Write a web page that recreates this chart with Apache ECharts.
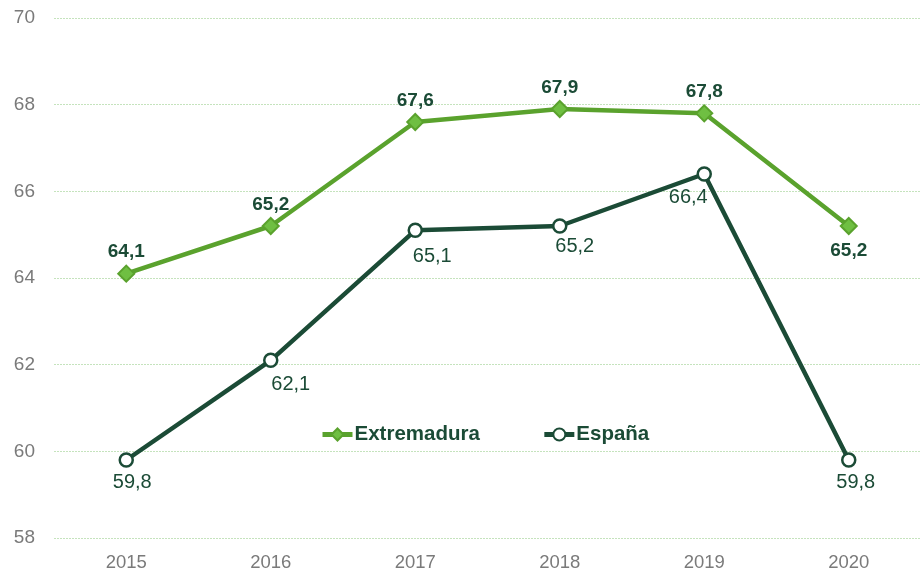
<!DOCTYPE html>
<html>
<head>
<meta charset="utf-8">
<script src="https://cdn.jsdelivr.net/npm/echarts@6/dist/echarts.min.js"></script>
<style>
  html, body { margin: 0; padding: 0; background: #fff; }
  #chart { width: 921px; height: 575px; }
</style>
</head>
<body>
<div id="chart"></div>
<script>
// Years shown on the category axis
const years = ['2015', '2016', '2017', '2018', '2019', '2020'];
// Series values
const extremadura = [64.1, 65.2, 67.6, 67.9, 67.8, 65.2];
const espana = [59.8, 62.1, 65.1, 65.2, 66.4, 59.8];
// Value axis range
const yMin = 58, yMax = 70, yStep = 2;

const lightGreen = '#5aa22d';
const markerGreen = '#6fbf42';
const darkGreen = '#1b4b36';
const comma = v => String(v.toFixed(1)).replace('.', ',');

const chart = echarts.init(document.getElementById('chart'), null, { renderer: 'canvas' });

// Per-point label placement for the España line
const espanaLabelPos = [
  { position: 'bottom', offset: [6, -3] },
  { position: 'bottom', offset: [20, -2] },
  { position: 'bottom', offset: [17, 0] },
  { position: 'bottom', offset: [15, -5] },
  { position: 'bottom', offset: [-16, -2] },
  { position: 'bottom', offset: [7, -3] }
];

chart.setOption({
  animation: false,
  textStyle: { fontFamily: 'Liberation Sans, Arial, sans-serif' },
  grid: { left: 54, right: 0, top: 18, bottom: 37, containLabel: false },
  legend: {
    data: ['Extremadura', 'España'],
    left: 315,
    top: 419,
    itemGap: 62,
    itemWidth: 30,
    itemHeight: 15,
    lineStyle: { width: 5 },
    textStyle: { color: darkGreen, fontWeight: 'bold', fontSize: 20.5, padding: [0, 0, 0, -3] }
  },
  xAxis: {
    type: 'category',
    data: years,
    boundaryGap: true,
    axisLine: { show: false },
    axisTick: { show: false },
    axisLabel: { color: '#7a7a7a', fontSize: 18.5, margin: 15 }
  },
  yAxis: {
    type: 'value',
    min: yMin,
    max: yMax,
    interval: yStep,
    axisLine: { show: false },
    axisTick: { show: false },
    axisLabel: { color: '#7a7a7a', fontSize: 19, margin: 19 },
    splitLine: { lineStyle: { color: '#c5e3bd', type: [2, 1], width: 1 } }
  },
  series: [
    {
      name: 'Extremadura',
      type: 'line',
      data: extremadura.map((v, i) => ({
        value: v,
        label: i === 5 ? { position: 'bottom', distance: 6 } : { position: 'top', distance: 3 }
      })),
      lineStyle: { color: lightGreen, width: 4.5 },
      itemStyle: { color: markerGreen, borderColor: lightGreen, borderWidth: 2 },
      symbol: 'diamond',
      symbolSize: 16,
      label: {
        show: true,
        color: darkGreen,
        fontWeight: 'bold',
        fontSize: 19,
        formatter: p => comma(p.value)
      },
      z: 3
    },
    {
      name: 'España',
      type: 'line',
      data: espana.map((v, i) => ({ value: v, label: espanaLabelPos[i] })),
      lineStyle: { color: darkGreen, width: 4.5 },
      itemStyle: { color: '#ffffff', borderColor: darkGreen, borderWidth: 2.5 },
      symbol: 'circle',
      symbolSize: 13,
      label: {
        show: true,
        color: darkGreen,
        fontSize: 20,
        distance: 8,
        formatter: p => comma(p.value)
      },
      z: 2
    }
  ]
});
</script>
</body>
</html>
